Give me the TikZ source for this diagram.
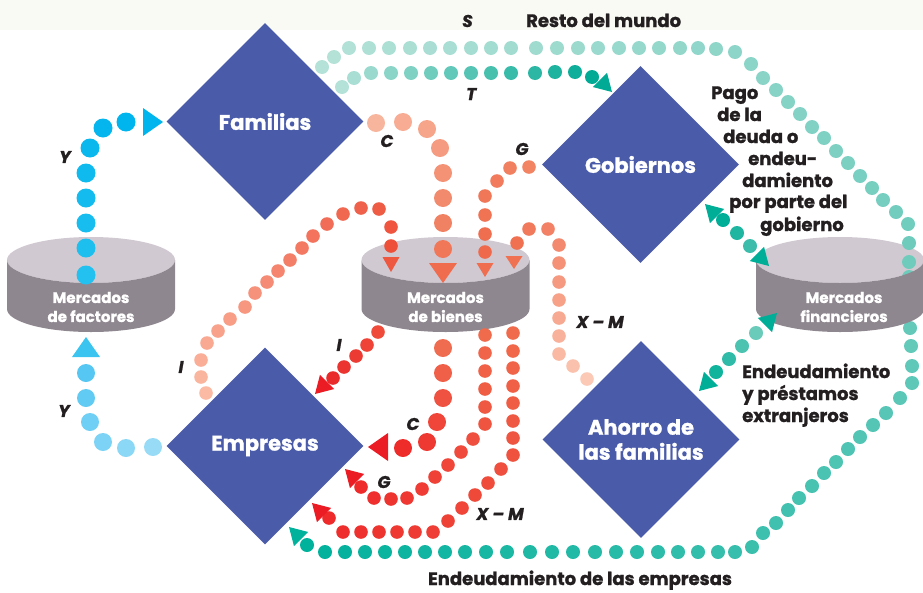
\documentclass[tikz,border=0pt]{standalone}
\usepackage{fontspec}
\setmainfont{Poppins}[BoldFeatures={FakeBold=1.2},BoldItalicFeatures={FakeBold=1.2}]
\usetikzlibrary{shapes.geometric}
\definecolor{dia}{HTML}{4A5BA9}
\definecolor{cyltopc}{HTML}{D1C9D1}
\definecolor{cylsidec}{HTML}{8F878F}
\definecolor{txt}{HTML}{231F20}
\definecolor{band}{HTML}{FAFAF5}
\definecolor{tealA}{HTML}{B5E2D8}
\definecolor{tealM}{HTML}{6FCCBD}
\definecolor{tealD}{HTML}{00B19C}
\definecolor{tealT}{HTML}{00AA94}
\definecolor{gf1}{HTML}{00AE98}
\definecolor{gf2}{HTML}{3CBDAB}
\definecolor{af1}{HTML}{6ACBBB}
\definecolor{af2}{HTML}{10B39C}
\definecolor{blueA}{HTML}{00B4EE}
\definecolor{blueB}{HTML}{22C1EF}
\definecolor{lbA}{HTML}{98DBF7}
\definecolor{lbB}{HTML}{55C7F2}
\definecolor{lbarrow}{HTML}{3CC4F0}
\definecolor{cA}{HTML}{F8B59D}
\definecolor{cB}{HTML}{F07859}
\definecolor{cArrow}{HTML}{F06C4E}
\definecolor{iA}{HTML}{FBBAA3}
\definecolor{iB}{HTML}{EE4F39}
\definecolor{iArrow}{HTML}{EE5840}
\definecolor{gA}{HTML}{F28464}
\definecolor{gB}{HTML}{EF6A4C}
\definecolor{gArrow}{HTML}{F06E50}
\definecolor{xA}{HTML}{FBC9B5}
\definecolor{xB}{HTML}{F07052}
\definecolor{ilA}{HTML}{F04B3A}
\definecolor{ilB}{HTML}{E92B2B}
\definecolor{clA}{HTML}{F06C50}
\definecolor{clB}{HTML}{EE2C2A}
\definecolor{rlA}{HTML}{F06A4C}
\definecolor{rlB}{HTML}{EE2A2A}
\definecolor{redArrow}{HTML}{EC1C24}
% dots along a list, colour shading from #2 to #3
\newcommand\dotrun[4]{%
  \foreach \px/\py [count=\n] in {#4} {\xdef\dotN{\n}}%
  \foreach \px/\py [count=\i] in {#4} {%
    \pgfmathtruncatemacro\t{100*(\i-1)/max(\dotN-1,1)}%
    \fill[#3!\t!#2] (\px,\py) circle[radius=#1pt];}}
% arrow head: tip x, y, angle, length, half width, colour
\newcommand\arrowtri[6]{\fill[#6, shift={(#1,#2)}, rotate=#3] (0pt,0pt) -- (-#4pt,#5pt) -- (-#4pt,-#5pt) -- cycle;}
\newcommand\cyltop[1]{\fill[cyltopc] (#1,260) circle[x radius=84pt, y radius=23pt];}
\newcommand\cylside[1]{\fill[cylsidec] (#1-84,260) -- (#1-84,309) arc[start angle=180, end angle=360, x radius=84pt, y radius=23pt] -- (#1+84,260) arc[start angle=0, end angle=-180, x radius=84pt, y radius=23pt] -- cycle;}
\begin{document}
\begin{tikzpicture}[x=1pt,y=-1pt,
  diabox/.style={diamond, fill=dia, minimum width=197pt, minimum height=197pt, inner sep=0pt, text=white, font=\bfseries\fontsize{21}{25}\selectfont, align=center},
  cyltext/.style={text=white, font=\bfseries\fontsize{15}{19}\selectfont, align=center, inner sep=0pt},
  lab/.style={text=txt, font=\bfseries\fontsize{18}{22}\selectfont, inner sep=0pt},
  var/.style={text=txt, font=\bfseries\itshape\fontsize{17}{20}\selectfont, inner sep=0pt}]
\useasboundingbox (0,0) rectangle (923,592);
\fill[band] (0,0) rectangle (923,30);
% diamonds
\node[diabox] (fam) at (265,121.5) {Familias};
\node[diabox] (gob) at (640.5,164.5) {Gobiernos};
\node[diabox] (emp) at (265,446) {Empresas};
\node[diabox] (aho) at (641,439.5) {Ahorro de\\las familias};
% cylinders
\cyltop{91}\cylside{91}
\cyltop{445.5}\cylside{445.5}
\cyltop{840}
% S path (outer loop)
\dotrun{7}{tealA}{tealM}{322/67, 334/57, 349/48, 369/48, 389/48, 410/48, 430/48, 450/48, 471/48, 491/48, 511/48, 536/48, 557/48, 578/48, 598/48, 619/48, 639/48, 659/48, 680/48, 698/48, 716/49, 735/52, 751/64, 763/78, 776/90, 788/102, 800/114, 812/127, 824/138, 836/151, 848/163, 860/176, 872/188, 883/200, 896/212, 908/224, 909/243}
\dotrun{7}{tealM}{tealD}{909/262, 909/277, 909/295, 909/311, 910/328, 911/346, 912/366, 912/383, 900/398, 886/413, 873/425, 860/437, 848/449, 836/462, 824/473, 812/486, 799/498, 788/510, 776/523, 763/533, 752/547, 735/552, 718/552, 698/552, 678/552, 658/552, 637/552, 616/552, 595/552, 573/552, 552/552, 530/552, 507/552, 486/552, 465/552, 445/552, 425/552, 405/552, 385/552, 365/552, 345/552, 325/552, 307/545}
\arrowtri{289}{527}{135}{17}{10}{tealD}
\cylside{840}
% cylinder texts
\node[cyltext] (mfac) at (91,307) {Mercados\\de factores};
\node[cyltext] (mbie) at (445.5,307) {Mercados\\de bienes};
\node[cyltext] (mfin) at (844,307) {Mercados\\financieros};
% T path
\dotrun{7}{tealA}{tealT}{342/87, 354/78, 371/73, 391/73, 411/73, 431/73, 451/73, 471/73, 491/73, 511/73, 535/73, 555/72, 575/72, 592/77}
\arrowtri{612}{92}{-45}{17}{10}{tealT}
% gobierno - financieros
\dotrun{7}{gf1}{gf2}{723/220, 737/233, 750/246}
\arrowtri{705}{204}{135}{17}{10}{gf1}
\arrowtri{769}{266}{-45}{17}{10}{gf1}
% ahorro - financieros
\dotrun{7}{af1}{af2}{756/333, 742/346, 729/359, 716/372}
\arrowtri{777}{313}{45}{17}{10}{gf1}
\arrowtri{699}{391}{-135}{17}{10}{gf1}
% Y paths
\dotrun{9.5}{blueB}{blueA}{86/275, 86/248, 86/223, 86/198, 86/173, 90/148, 103/128, 126/122}
\arrowtri{163}{122}{0}{20}{14}{blueA}
\dotrun{9}{lbA}{lbB}{153/447, 126/448, 103/442, 90/422, 86/398, 86/373}
\arrowtri{86}{337}{90}{20}{14}{lbarrow}
% C top
\dotrun{9}{cA}{cB}{376/123, 403/122, 427/129, 440/148, 443/173, 443/198, 443/223, 443/249}
\arrowtri{443}{283}{-90}{20}{14}{cArrow}
% I top
\dotrun{6.8}{iA}{iB}{206/393, 201/377, 201/360, 207/343, 218/331, 230/319, 245/307, 255/293, 267/282, 278/271, 290/260, 302/248, 313/236, 327/224, 343/214, 361/208, 379/209, 391/227, 391/246}
\arrowtri{391}{272}{-90}{15}{8.5}{iArrow}
% G top
\dotrun{6.8}{gA}{gB}{529/167, 510/168, 497/181, 485/196, 485/215, 485/234, 485/252}
\arrowtri{485}{277}{-90}{14}{8.5}{gArrow}
% X-M top
\dotrun{6.8}{xA}{xB}{587/379, 573/366, 559/354, 559/336, 559/318, 559/300, 559/282, 559/263, 559/245, 548/229, 529/229, 517/243}
\arrowtri{514}{269}{-90}{13}{8.5}{xB}
% lower I
\dotrun{6.8}{ilA}{ilB}{378/332, 367/345, 356/356, 344/367, 333/378}
\arrowtri{315}{394}{-135}{17}{10}{redArrow}
% lower C
\dotrun{9}{clA}{clB}{443/348, 443/373, 443/398, 437/422, 427/442, 403/448}
\arrowtri{368}{447}{180}{20}{14}{redArrow}
% lower G
\dotrun{6.8}{rlA}{rlB}{485/335, 485/353, 485/371, 485/389, 485/407, 485/424, 473/439, 461/452, 448/465, 435/477, 422/489, 407/498, 391/499, 374/498, 361/487}
\arrowtri{345}{469}{135}{17}{10}{redArrow}
% lower X-M
\dotrun{6.8}{rlA}{rlB}{513/333, 513/351, 513/368, 513/386, 513/403, 513/421, 513/438, 513/455, 501/469, 488/483, 475/495, 462/508, 448/521, 433/532, 415/532, 397/532, 379/532, 361/532, 343/532, 329/518}
\arrowtri{312}{503}{135}{17}{10}{redArrow}
% variable labels
\node[var] (lY1) at (65,157) {Y};
\node[var] (lY2) at (64,411) {Y};
\node[var] (lC1) at (387,141) {C};
\node[var] (lI1) at (181,367) {I};
\node[var] (lG1) at (522,149) {G};
\node[var, anchor=base west] (lS) at (462,27) {S};
\node[var, anchor=base west] (lT) at (466,100) {T};
\node[var] (lI2) at (339,345) {I};
\node[var] (lC2) at (413,424) {C};
\node[var] (lG2) at (384,482) {G};
\node[var] (lXM1) at (600,322) {X – M};
\node[var] (lXM2) at (500,514) {X – M};
% text labels
\node[lab, anchor=base west] (rdm) at (526,27) {Resto del mundo};
\node[lab, anchor=base west] (p1) at (711,99) {Pago};
\node[lab, anchor=base west] (p2) at (717,121) {de la};
\node[lab, anchor=base west] (p3) at (723,143) {deuda o};
\node[lab, anchor=base west] (p4) at (748,165) {endeu-};
\node[lab, anchor=base west] (p5) at (742,187) {damiento};
\node[lab, anchor=base west] (p6) at (729,208) {por parte del};
\node[lab, anchor=base west] (p7) at (760,231) {gobierno};
\node[lab, anchor=base west] (e1) at (742,378) {Endeudamiento};
\node[lab, anchor=base west] (e2) at (742,400) {y préstamos};
\node[lab, anchor=base west] (e3) at (742,422) {extranjeros};
\node[lab, anchor=base] (ede) at (580,585) {Endeudamiento de las empresas};
\end{tikzpicture}
\end{document}
